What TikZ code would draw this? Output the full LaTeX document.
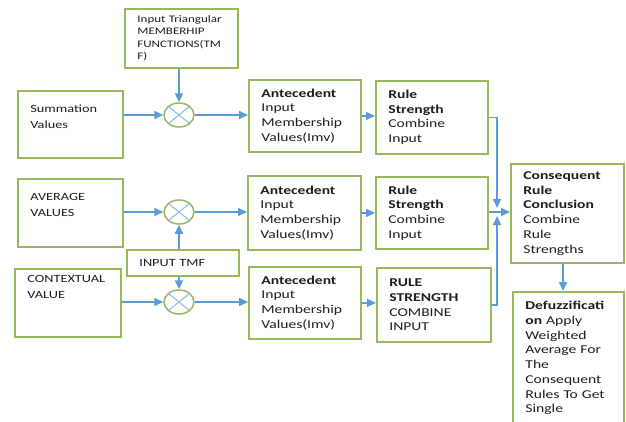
\documentclass[tikz,border=0pt]{standalone}
\usepackage{fontspec}
\setmainfont{Carlito}[FakeStretch=1.3]
\usetikzlibrary{arrows.meta,shapes.geometric,calc}
\definecolor{grn}{RGB}{150,185,90}
\definecolor{blu}{RGB}{91,155,213}
\definecolor{txt}{RGB}{30,30,30}
\begin{document}
\begin{tikzpicture}[x=1pt,y=-1pt,
  bx/.style={draw=grn, line width=1.8pt, anchor=north west, inner xsep=12.5pt, inner ysep=2pt, align=left, text=txt},
  fA/.style={font=\fontsize{12}{14.7}\selectfont},
  fL/.style={font=\fontsize{11}{16}\selectfont},
  fT/.style={font=\fontsize{10}{12.4}\selectfont},
  mult/.style={ellipse, draw=grn, line width=1.5pt, minimum width=30pt, minimum height=24pt, inner sep=0pt},
  crs/.style={draw=blu!70, line width=1pt},
  arr/.style={draw=blu, line width=1.6pt, -{Triangle[length=9pt,width=8pt]}}]
\useasboundingbox[fill=white] (0,0) rectangle (626,421);

% input boxes
\node[bx,fT,minimum width=113pt,minimum height=59pt,text width=88pt] (tmf) at (124,8) {Input Triangular\\MEMBERHIP\\FUNCTIONS(TM\\F)};
\node[bx,fL,minimum width=105pt,minimum height=67pt,text width=80pt] (sum) at (17,90) {Summation\\Values\\\mbox{}};
\node[bx,fL,minimum width=105pt,minimum height=68pt,text width=80pt] (avg) at (17,178) {AVERAGE\\VALUES\\\mbox{}};
\node[bx,fL,minimum width=106pt,minimum height=68pt,text width=81pt] (ctx) at (14,268) {CONTEXTUAL\\VALUE\\\mbox{}\\\mbox{}};
\node[bx,fL,minimum width=112pt,minimum height=26pt,text width=87pt] (itmf) at (126,249) {INPUT TMF};

% multipliers
\node[mult] (c1) at (179,115) {};
\node[mult] (c2) at (179,212) {};
\node[mult] (c3) at (179,302) {};
\foreach \c in {c1,c2,c3}{
  \draw[crs] (\c.north east) -- (\c.south west);
  \draw[crs] (\c.north west) -- (\c.south east);
}

% antecedent boxes
\node[bx,fA,minimum width=112pt,minimum height=72pt,text width=87pt] (ant1) at (248,79) {\textbf{Antecedent}\\Input\\Membership\\Values(Imv)};
\node[bx,fA,minimum width=113pt,minimum height=74pt,text width=88pt] (ant2) at (247,175) {\textbf{Antecedent}\\Input\\Membership\\Values(Imv)};
\node[bx,fA,minimum width=112pt,minimum height=72pt,text width=87pt] (ant3) at (248,266) {\textbf{Antecedent}\\Input\\Membership\\Values(Imv)};

% rule strength boxes
\node[bx,fA,minimum width=112pt,minimum height=73pt,text width=87pt] (rs1) at (375,80) {\textbf{Rule}\\\textbf{Strength}\\Combine\\Input};
\node[bx,fA,minimum width=112pt,minimum height=72pt,text width=87pt] (rs2) at (375,176) {\textbf{Rule}\\\textbf{Strength}\\Combine\\Input};
\node[bx,fA,minimum width=114pt,minimum height=74pt,text width=89pt] (rs3) at (376,267) {\textbf{RULE}\\\textbf{STRENGTH}\\COMBINE\\INPUT};

% consequent and defuzzification
\node[bx,fA,minimum width=113pt,minimum height=99pt,text width=88pt] (cons) at (510,163) {\textbf{Consequent}\\\textbf{Rule}\\\textbf{Conclusion}\\Combine\\Rule\\Strengths};
\node[bx,fA,minimum width=111pt,minimum height=145pt,text width=86pt] (def) at (512,291) {\textbf{Defuzzificati}\\\textbf{on} Apply\\Weighted\\Average For\\The\\Consequent\\Rules To Get\\Single\\\mbox{}};

\coordinate (j) at (497,212);

% connectors
\draw[arr] (tmf.south -| c1.north) -- (c1.north);
\draw[arr] (sum.east |- c1.west) -- (c1.west);
\draw[arr] (c1.east) -- (c1.east -| ant1.west);
\draw[arr] (ant1.east) -- (ant1.east -| rs1.west);

\draw[arr] (avg.east |- c2.west) -- (c2.west);
\draw[arr] (itmf.north -| c2.south) -- (c2.south);
\draw[arr] (c2.east) -- (c2.east -| ant2.west);
\draw[arr] (ant2.east) -- (ant2.east -| rs2.west);

\draw[arr] (ctx.east |- c3.west) -- (c3.west);
\draw[arr] (itmf.south -| c3.north) -- (c3.north);
\draw[arr] (c3.east) -- (c3.east -| ant3.west);
\draw[arr] (ant3.east) -- (ant3.east -| rs3.west);

\draw[arr] (rs1.east) -| ($(j)+(0,-4)$);
\draw[arr] (rs3.east) -| ($(j)+(0,4)$);
\draw[arr] (rs2.east |- j) -- (j -| cons.west);
\draw[arr] (cons.south -| 563,0) -- (def.north -| 563,0);
\end{tikzpicture}
\end{document}
